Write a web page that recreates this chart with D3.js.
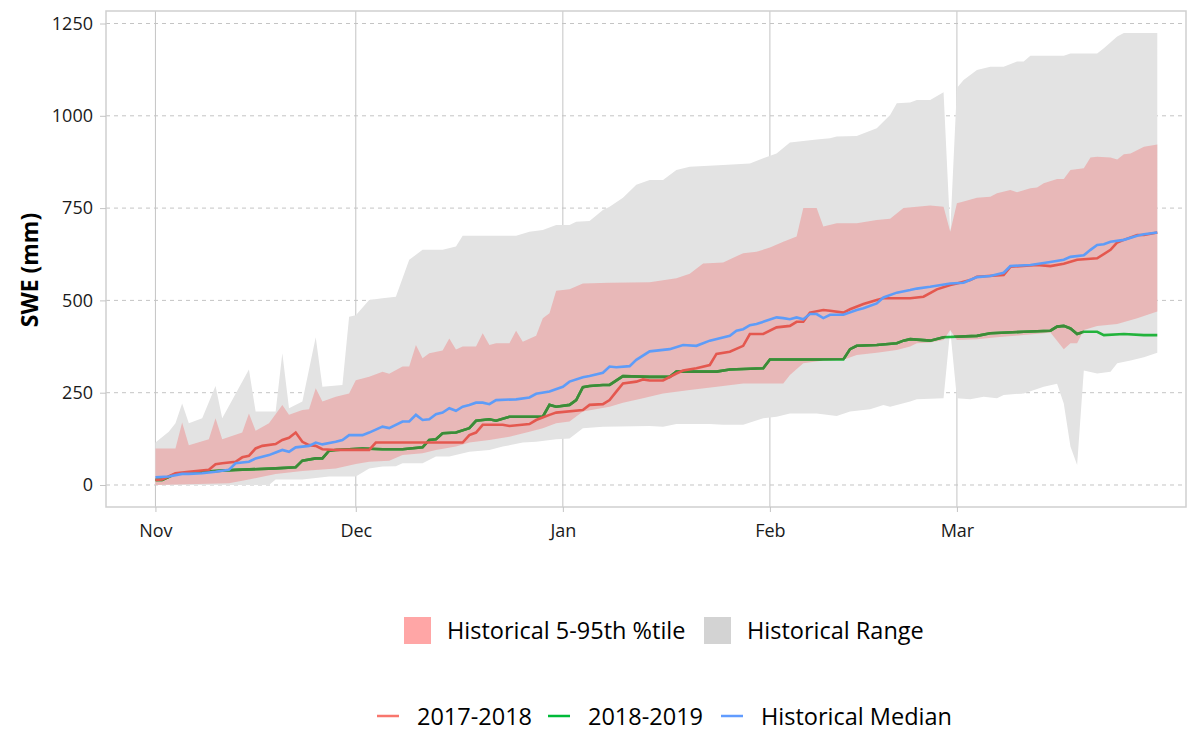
<!DOCTYPE html>
<html>
<head>
<meta charset="utf-8">
<script src="https://cdn.jsdelivr.net/npm/d3@7"></script>
<style>
  body { margin: 0; background: #fff; }
  text { font-family: "Open Sans", sans-serif; }
</style>
</head>
<body>
<div id="chart"></div>
<script>
// day index: 0 = Nov 1
var monthLabels = ["Nov", "Dec", "Jan", "Feb", "Mar"];
var monthDays = [0, 30, 61, 92, 120];
var yTicks = [0, 250, 500, 750, 1000, 1250];

var rangeMax = [[0,115],[2,144],[3,167],[4,221],[5,167],[7,181],[9,268],[10,181],[14,313],[15,199],[18,199],[19,357],[20,208],[22,226],[24,400],[25,266],[28,271],[29,456],[30,460],[32,501],[34,506],[36,510],[38,610],[40,637],[43,637],[45,646],[46,675],[54,675],[56,686],[58,691],[60,704],[62,704],[63,713],[65,715],[67,745],[68,754],[70,778],[72,813],[74,826],[76,826],[78,853],[80,862],[85,867],[89,871],[91,885],[93,898],[95,928],[97,932],[99,936],[101,939],[102,944],[105,945],[108,966],[110,1002],[111,1034],[113,1036],[114,1043],[116,1043],[118,1064],[119,686],[120,1075],[121,1097],[123,1124],[125,1133],[127,1133],[129,1147],[130,1147],[131,1163],[136,1163],[137,1169],[141,1169],[142,1183],[144,1215],[145,1224],[150,1224]];
var rangeMin = [[0,0],[17,0],[18,15],[22,15],[26,23],[30,23],[32,45],[34,50],[36,51],[37,59],[40,59],[42,77],[44,77],[47,90],[50,95],[52,104],[55,115],[57,117],[60,124],[62,126],[64,154],[67,158],[74,160],[76,158],[78,165],[83,165],[85,163],[88,163],[91,181],[93,185],[95,194],[99,194],[102,187],[104,199],[107,205],[109,217],[110,212],[113,226],[114,232],[118,235],[119,420],[120,235],[122,232],[124,239],[126,235],[127,244],[130,248],[133,266],[135,274],[136,221],[137,104],[138,54],[139,310],[141,302],[143,307],[144,330],[146,337],[148,346],[150,358]];
var pct95 = [[0,99],[3,99],[4,169],[5,108],[8,124],[9,181],[10,124],[13,142],[14,194],[15,147],[17,167],[19,217],[20,190],[22,203],[23,205],[24,262],[25,226],[27,239],[29,248],[30,284],[32,293],[34,307],[35,301],[37,321],[38,321],[39,379],[40,343],[41,357],[43,364],[44,397],[45,367],[46,375],[48,375],[49,411],[50,379],[51,384],[53,384],[54,418],[55,388],[57,404],[58,452],[59,465],[60,526],[62,530],[64,546],[68,548],[74,549],[78,560],[80,572],[82,600],[85,603],[88,628],[90,632],[92,643],[94,659],[96,673],[97,750],[99,750],[100,700],[102,709],[105,709],[108,718],[110,721],[112,750],[116,757],[118,754],[119,686],[120,763],[121,768],[123,778],[125,781],[126,790],[128,799],[129,793],[131,804],[132,806],[133,817],[135,829],[136,829],[137,853],[139,858],[140,887],[141,889],[143,887],[144,882],[145,896],[146,898],[148,916],[150,922]];
var pct5 = [[0,0],[11,5],[14,15],[18,30],[22,38],[27,45],[30,57],[32,63],[35,66],[37,81],[40,86],[42,95],[45,104],[47,115],[50,122],[53,131],[56,144],[58,154],[60,167],[62,172],[64,199],[68,212],[70,223],[73,235],[76,248],[80,257],[85,268],[88,275],[94,275],[95,298],[97,330],[100,337],[103,339],[105,352],[108,358],[111,366],[113,375],[114,384],[116,386],[118,393],[119,420],[120,393],[123,395],[126,400],[130,406],[133,411],[134,413],[136,368],[137,384],[138,384],[139,420],[141,431],[144,436],[147,452],[150,470]];

var swe1718 = [[0,14],[1,15],[3,32],[5,36],[8,41],[9,56],[10,59],[12,63],[13,75],[14,79],[15,99],[16,106],[18,111],[19,122],[20,128],[21,142],[22,117],[23,108],[24,106],[25,97],[27,95],[32,95],[33,115],[46,115],[47,135],[48,142],[49,163],[52,163],[53,160],[56,165],[57,176],[59,190],[60,196],[64,203],[65,217],[67,219],[68,230],[69,253],[70,275],[72,280],[73,286],[74,283],[76,283],[78,302],[79,310],[81,316],[83,325],[84,355],[86,361],[88,377],[89,409],[91,409],[93,427],[95,431],[96,442],[97,442],[98,467],[100,474],[101,472],[103,467],[104,476],[106,490],[108,501],[109,506],[113,506],[115,510],[117,530],[119,542],[120,546],[122,555],[123,564],[127,569],[128,591],[132,596],[134,593],[136,599],[138,610],[141,614],[143,637],[144,657],[145,664],[147,677],[148,677],[150,684]];
var swe1819 = [[0,14],[1,14],[3,30],[7,36],[12,41],[18,45],[21,48],[22,66],[24,72],[25,72],[26,93],[27,95],[31,99],[34,97],[37,97],[40,102],[41,122],[42,124],[43,140],[45,142],[47,154],[48,174],[50,178],[51,174],[53,185],[58,185],[59,217],[60,212],[62,217],[63,230],[64,265],[65,268],[67,271],[68,271],[70,295],[74,293],[77,293],[78,307],[84,307],[86,313],[91,316],[92,340],[103,340],[104,368],[105,377],[108,379],[111,384],[112,391],[113,395],[116,391],[118,400],[123,404],[125,411],[130,415],[134,418],[135,429],[136,431],[137,424],[138,409],[139,415],[141,415],[142,406],[145,409],[148,406],[150,406]];
var medianSwe = [[0,21],[2,23],[4,30],[5,30],[7,32],[9,36],[11,41],[12,59],[14,63],[15,72],[17,81],[18,88],[19,95],[20,90],[21,102],[23,106],[24,115],[25,110],[27,117],[28,122],[29,135],[31,135],[32,142],[34,158],[35,154],[37,172],[38,172],[39,190],[40,176],[41,178],[42,192],[43,196],[44,208],[45,201],[46,212],[47,217],[48,223],[49,223],[50,219],[51,230],[54,232],[56,237],[57,247],[59,253],[61,266],[62,280],[64,292],[65,295],[67,304],[68,321],[69,319],[71,322],[72,339],[74,362],[77,368],[79,379],[81,377],[83,391],[86,404],[87,418],[88,422],[89,433],[90,436],[93,454],[94,452],[95,449],[96,454],[97,449],[98,463],[99,463],[100,452],[101,461],[103,461],[105,474],[106,479],[108,492],[109,508],[111,521],[113,528],[114,532],[116,537],[119,546],[121,548],[123,563],[125,566],[127,575],[128,593],[131,596],[134,604],[136,610],[137,618],[139,622],[140,637],[141,650],[142,652],[143,659],[145,664],[147,675],[148,679],[150,684]];

var bandLabels = ["Historical 5-95th %tile", "Historical Range"];
var bandKeyColors = ["#ffa6a6", "#d3d3d3"];
var lineLabels = ["2017-2018", "2018-2019", "Historical Median"];
var lineKeyColors = ["#f8766d", "#00ba38", "#619cff"];

var width = 1196, height = 731;
var plotLeft = 106, plotRight = 1186, plotTop = 11, plotBottom = 507;

var svg = d3.select("#chart")
  .append("svg")
  .attr("width", width)
  .attr("height", height);

var x = d3.scaleLinear().domain([-7.4, 154.3]).range([plotLeft, plotRight]);
var y = d3.scaleLinear().domain([-59.6, 1283.9]).range([plotBottom, plotTop]);

// grid
svg.append("g")
  .selectAll("line")
  .data(yTicks)
  .enter().append("line")
  .attr("x1", plotLeft).attr("x2", plotRight)
  .attr("y1", function(d) { return y(d); })
  .attr("y2", function(d) { return y(d); })
  .style("stroke", "#c4c4c4")
  .style("stroke-width", 1)
  .style("stroke-dasharray", "4,4");

svg.append("g")
  .selectAll("line")
  .data(monthDays)
  .enter().append("line")
  .attr("x1", function(d) { return x(d); })
  .attr("x2", function(d) { return x(d); })
  .attr("y1", plotTop).attr("y2", plotBottom)
  .style("stroke", "#c4c4c4")
  .style("stroke-width", 1);

var line = d3.line()
  .x(function(d) { return x(d[0]); })
  .y(function(d) { return y(d[1]); });

function bandPath(upper, lower) {
  return line(upper.concat(lower.slice().reverse())) + "Z";
}

svg.append("path")
  .attr("d", bandPath(rangeMax, rangeMin))
  .style("fill", "#e3e3e3");

svg.append("path")
  .attr("d", bandPath(pct95, pct5))
  .style("fill", "#e8b8b8");

svg.append("clipPath")
  .attr("id", "pctClip")
  .append("path")
  .attr("d", bandPath(pct95, pct5));

// green is darker where it runs inside the percentile band
svg.append("path")
  .attr("d", line(swe1819))
  .style("fill", "none")
  .style("stroke", "#22b33c")
  .style("stroke-width", 2.6);

svg.append("path")
  .attr("d", line(swe1819))
  .attr("clip-path", "url(#pctClip)")
  .style("fill", "none")
  .style("stroke", "#3d8b38")
  .style("stroke-width", 2.6);

svg.append("path")
  .attr("d", line(swe1718))
  .style("fill", "none")
  .style("stroke", "#e4584f")
  .style("stroke-width", 2.6);

svg.append("path")
  .attr("d", line(medianSwe))
  .style("fill", "none")
  .style("stroke", "#5e9cf8")
  .style("stroke-width", 2.6);

// panel border
svg.append("rect")
  .attr("x", plotLeft).attr("y", plotTop)
  .attr("width", plotRight - plotLeft).attr("height", plotBottom - plotTop)
  .style("fill", "none")
  .style("stroke", "#cfcfcf")
  .style("stroke-width", 1.5);

// axes
var yAxis = svg.append("g")
  .attr("transform", "translate(" + plotLeft + ",0)")
  .call(d3.axisLeft(y).tickValues(yTicks).tickSize(6).tickPadding(7)
    .tickFormat(d3.format("d")));
var xAxis = svg.append("g")
  .attr("transform", "translate(0," + plotBottom + ")")
  .call(d3.axisBottom(x).tickValues(monthDays).tickSize(5).tickPadding(12)
    .tickFormat(function(d, i) { return monthLabels[i]; }));

[yAxis, xAxis].forEach(function(ax) {
  ax.select(".domain").remove();
  ax.selectAll(".tick line").style("stroke", "#c4c4c4");
  ax.selectAll(".tick text")
    .style("font-family", "Open Sans, sans-serif")
    .style("font-size", "18px")
    .style("fill", "#1a1a1a");
});

svg.append("text")
  .attr("transform", "translate(38,270) rotate(-90)")
  .style("text-anchor", "middle")
  .style("font-size", "23px")
  .style("font-weight", "bold")
  .style("fill", "#000")
  .text("SWE (mm)");

// legends
var bandKeyX = [404, 704];
var bandLegend = svg.append("g")
  .selectAll("g")
  .data(bandLabels)
  .enter().append("g")
  .attr("transform", function(d, i) { return "translate(" + bandKeyX[i] + ",617)"; });
bandLegend.append("rect")
  .attr("width", 27).attr("height", 27)
  .style("fill", function(d, i) { return bandKeyColors[i]; });
bandLegend.append("text")
  .attr("x", 43).attr("y", 22)
  .style("font-size", "23.5px")
  .style("fill", "#000")
  .text(function(d) { return d; });

var lineKeyX = [377, 548, 721];
var lineLegend = svg.append("g")
  .selectAll("g")
  .data(lineLabels)
  .enter().append("g")
  .attr("transform", function(d, i) { return "translate(" + lineKeyX[i] + ",716)"; });
lineLegend.append("line")
  .attr("x1", 0).attr("x2", 22)
  .style("stroke", function(d, i) { return lineKeyColors[i]; })
  .style("stroke-width", 2.5);
lineLegend.append("text")
  .attr("x", 40).attr("y", 8.5)
  .style("font-size", "23.5px")
  .style("fill", "#000")
  .text(function(d) { return d; });
</script>
</body>
</html>
